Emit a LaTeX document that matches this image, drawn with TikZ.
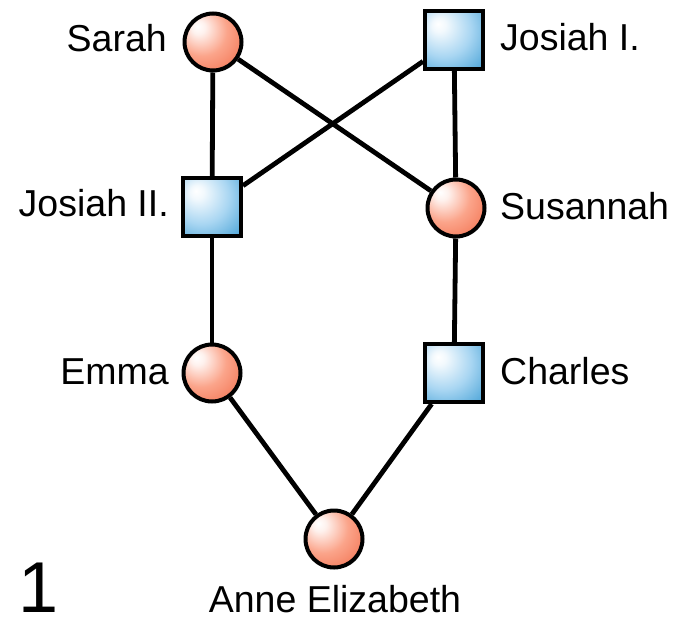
\documentclass[tikz,border=0pt]{standalone}
\usepackage{fontspec}
\setmainfont{Liberation Sans}
\definecolor{ballmid}{HTML}{FBA48A}
\definecolor{balldark}{HTML}{EE5A35}
\definecolor{boxmid}{HTML}{A9D6F2}
\definecolor{boxdark}{HTML}{1487C8}
\pgfdeclareradialshading{ballred}{\pgfpoint{-14bp}{14bp}}{%
  color(0bp)=(white);
  color(6bp)=(white!85!ballmid);
  color(22bp)=(ballmid);
  color(50bp)=(balldark);
  color(72bp)=(balldark)}
\pgfdeclareradialshading{boxblue}{\pgfpoint{-14bp}{14bp}}{%
  color(0bp)=(white);
  color(6bp)=(white!85!boxmid);
  color(24bp)=(boxmid);
  color(55bp)=(boxdark);
  color(75bp)=(boxdark)}
\tikzset{
  fem/.style={circle, draw=black, line width=4pt, minimum size=57pt, inner sep=0pt, shading=ballred},
  mal/.style={rectangle, draw=black, line width=4pt, minimum size=58pt, inner sep=0pt, shading=boxblue},
  lab/.style={font=\fontsize{37.5}{40}\selectfont, inner sep=0pt},
  rel/.style={line width=4.8pt, black}
}
\begin{document}
\begin{tikzpicture}[x=1pt,y=-1pt]
\useasboundingbox (0,0) rectangle (684,618);
\fill[white] (0,0) rectangle (684,618);
% people
\node[fem] (sarah) at (213,42) {};
\node[mal] (josiahI) at (454,40) {};
\node[mal] (josiahII) at (212,207) {};
\node[fem] (susannah) at (456,208) {};
\node[fem] (emma) at (212,373) {};
\node[mal] (charles) at (454,373) {};
\node[fem] (anne) at (334,539) {};
% relations
\draw[rel] (sarah) -- (josiahII);
\draw[rel] (sarah) -- (susannah);
\draw[rel] (josiahI) -- (josiahII);
\draw[rel] (josiahI) -- (susannah);
\draw[rel] (josiahII) -- (emma);
\draw[rel] (susannah) -- (charles);
\draw[rel] (emma) -- (anne);
\draw[rel] (charles) -- (anne);
% labels
\node[lab, anchor=base east] (lsarah) at (167,52) {Sarah};
\node[lab, anchor=base west] (ljosiahI) at (500,51) {Josiah I.};
\node[lab, anchor=base east] (ljosiahII) at (169,216) {Josiah II.};
\node[lab, anchor=base west] (lsusannah) at (500,219) {Susannah};
\node[lab, anchor=base east] (lemma) at (169,384) {Emma};
\node[lab, anchor=base west] (lcharles) at (500,384) {Charles};
\node[lab, anchor=base] (lanne) at (335,612) {Anne Elizabeth};
\node[anchor=base west, inner sep=0pt, font=\fontsize{72}{76}\selectfont] (num) at (18,612) {1};
\end{tikzpicture}
\end{document}
